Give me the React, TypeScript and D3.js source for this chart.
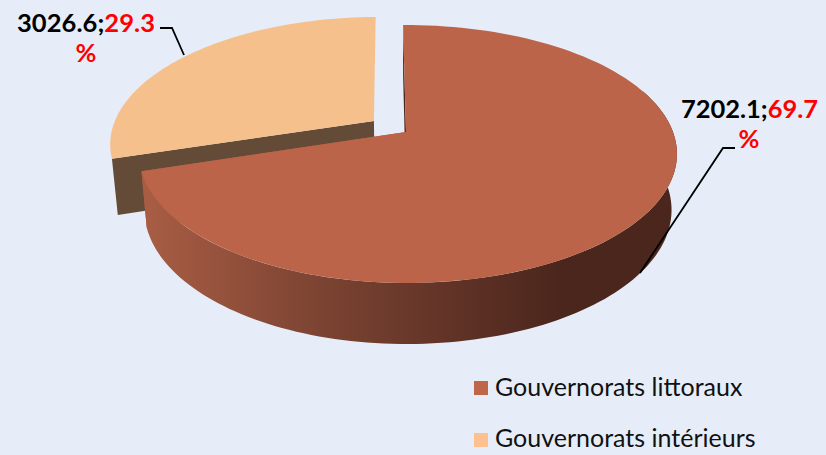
import React from "react";
import * as d3 from "d3";

const categories = ["Gouvernorats littoraux", "Gouvernorats intérieurs"];
const values = [7202.1, 3026.6];
const percents = ["69.7", "29.3"];
const topColors = ["#bc6449", "#f6c08d"];
const legendColors = ["#bf654a", "#fdc08e"];

const W = 826, H = 455;
const FONT = "Lato, 'Noto Sans', sans-serif";
const deg = Math.PI / 180;

// perspective projection of the unit disc onto the page
const cx = 406, cy = 132, k = 0.1705, a = 125.2, cLeft = 263, cRight = 267;
function project(x: number, y: number, down = false): [number, number] {
  const w = 1 + k * y;
  const X = (x < 0 ? cLeft : cRight) * x / w, Y = cy - a * y / w;
  if (!down) return [cx + X, Y];
  const depth = 56 + (Y - 156) * 0.04;
  return [cx + X * 0.98, Y + depth];
}

const pieGen = d3.pie<number>().sort(null).startAngle(-0.75 * deg).endAngle(359.25 * deg);
const arcs = pieGen(values);
const explode = 0.153;

function rim(a0: number, a1: number, ox: number, oy: number, down = false, n = 120) {
  return d3.range(n + 1).map((i) => {
    const t = a0 + (a1 - a0) * i / n;
    return project(Math.sin(t) + ox, Math.cos(t) + oy, down);
  });
}
const line = d3.line();

const main = arcs[0];
const side = arcs[1];
const mid = (side.startAngle + side.endAngle) / 2;
const ox = Math.sin(mid) * explode, oy = Math.cos(mid) * explode;

const mainTop = line([project(0, 0), ...rim(main.startAngle, main.endAngle, 0, 0)])! + "Z";
const sideTop = line([project(ox, oy), ...rim(side.startAngle, side.endAngle, ox, oy)])! + "Z";
const wallTop = rim(70 * deg, main.endAngle, 0, 0);
const wallBottom = rim(70 * deg, main.endAngle, 0, 0, true).reverse();
const mainWall = line([...wallTop, ...wallBottom])! + "Z";
const edgePt = (t: number, o: number[], down: boolean) => project(Math.sin(t) + o[0], Math.cos(t) + o[1], down);
const startWall = line([project(0, 0), edgePt(main.startAngle, [0, 0], false), edgePt(main.startAngle, [0, 0], true), project(0, 0, true)])! + "Z";
const endWall = line([project(0, 0), edgePt(main.endAngle, [0, 0], false), edgePt(main.endAngle, [0, 0], true), project(0, 0, true)])! + "Z";
const sideWall = line([project(ox, oy), edgePt(side.startAngle, [ox, oy], false), edgePt(side.startAngle, [ox, oy], true), project(ox, oy, true)])! + "Z";

export default function App() {
  return (
    <svg width={W} height={H} viewBox={`0 0 ${W} ${H}`} style={{ position: "absolute", left: 0, top: 0, display: "block" }}>
      <defs>
        <linearGradient id="wall" gradientUnits="userSpaceOnUse" x1="143" x2="560" y1="0" y2="0">
          <stop offset="0" stopColor="#a95d44" />
          <stop offset="0.45" stopColor="#794231" />
          <stop offset="1" stopColor="#4b261d" />
        </linearGradient>
      </defs>
      <rect width={W} height={H} fill="#e6edf9" />
      <path d={sideWall} fill="#644b38" />
      <path d={sideTop} fill={topColors[1]} />
      <path d={startWall} fill="#4b261d" />
      <path d={endWall} fill="#a95d44" />
      <path d={mainWall} fill="url(#wall)" />
      <path d={mainTop} fill={topColors[0]} />
      <polyline points="160,28 172,28 184,55" fill="none" stroke="#000" strokeWidth={1.8} />
      <polyline points="735,148 723,148 640,273" fill="none" stroke="#000" strokeWidth={1.8} />
      <g fontFamily={FONT} fontWeight={700} fontSize={25.5}>
        <text x={17} y={32} fill="#000" textLength={138}>{values[1]};<tspan fill="#f00">{percents[1]}</tspan></text>
        <text x={86} y={62} fill="#f00" textAnchor="middle">%</text>
        <text x={681} y={118} fill="#000" textLength={137}>{values[0]};<tspan fill="#f00">{percents[0]}</tspan></text>
        <text x={749} y={148} fill="#f00" textAnchor="middle">%</text>
      </g>
      {categories.map((name, i) => (
        <g key={name}>
          <rect x={474} y={381 + i * 52} width={14} height={14} fill={legendColors[i]} />
          <text x={495} y={396 + i * 51} fontFamily={FONT} fontSize={25} fill="#111">{name}</text>
        </g>
      ))}
    </svg>
  );
}
